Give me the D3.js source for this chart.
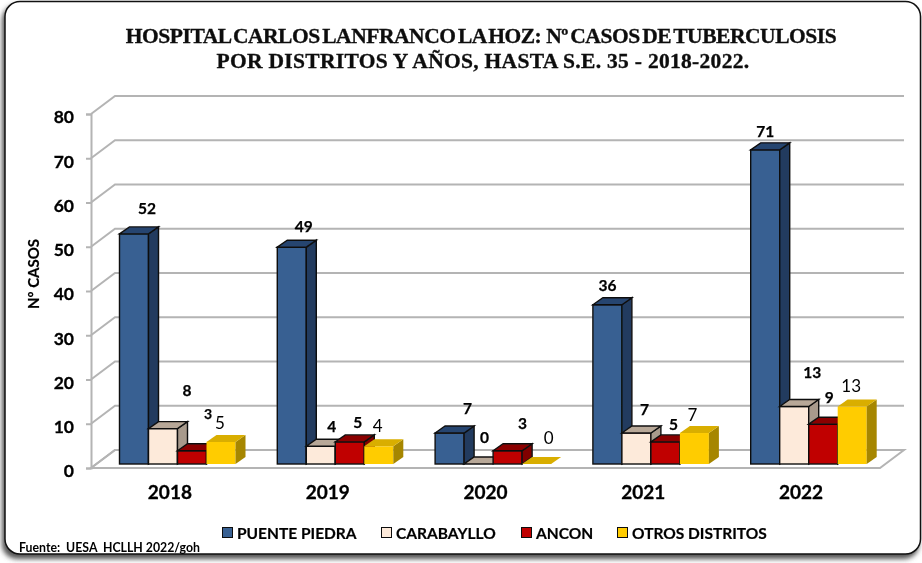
<!DOCTYPE html>
<html><head><meta charset="utf-8">
<script src="https://cdn.jsdelivr.net/npm/d3@7/dist/d3.min.js"></script>
<style>html,body{margin:0;padding:0;background:#fff}svg{display:block}</style>
</head><body><svg id="c" width="922" height="563"></svg>
<script>
const years = ["2018","2019","2020","2021","2022"];
const seriesNames = ["PUENTE PIEDRA","CARABAYLLO","ANCON","OTROS DISTRITOS"];
const puentePiedra = [52,49,7,36,71];
const carabayllo = [8,4,0,7,13];
const ancon = [3,5,3,5,9];
const otros = [5,4,0,7,13];
const yTicks = [0,10,20,30,40,50,60,70,80];
const titleLines = ["HOSPITAL CARLOS LANFRANCO LA HOZ:  Nº CASOS DE TUBERCULOSIS","POR DISTRITOS Y AÑOS, HASTA S.E. 35 - 2018-2022."];
const seriesValues = [puentePiedra,carabayllo,ancon,otros];
const front = ["#376092","#FDEADA","#C00000","#FFCC00"];
const topc = ["#274570","#B8A898","#8B0000","#D9AE00"];
const side = ["#203A5E","#A89A8C","#800000","#A68600"];
// hand-placed data label nudges in the source chart [dx,dy] from the bar's top-centre, per series then year
const nudgeBlue = [[13,-26],[12,-21],[18,-25],[0,-20],[0,-19]];
const nudgePeach = [[24,-39],[11,-20],[6,-27],[8,-24],[18,-34]];
const nudgeRed = [[16,-37],[8,-20],[15,-28],[8,-18],[6,-27]];
const nudgeYellow = [[-1,-19],[-1,-21],[12,-27],[-2,-19],[-1,-21]];
const nudges = [nudgeBlue,nudgePeach,nudgeRed,nudgeYellow];

const svg = d3.select("#c");
const defs = svg.append("defs");
const f = defs.append("filter").attr("id","sh").attr("x","-5%").attr("y","-5%").attr("width","110%").attr("height","110%");
f.append("feGaussianBlur").attr("stdDeviation",2.5);
const b = defs.append("filter").attr("id","soft").attr("x","-5%").attr("y","-5%").attr("width","110%").attr("height","110%");
b.append("feGaussianBlur").attr("stdDeviation",0.35);

// frame
svg.append("rect").attr("x",2).attr("y",5).attr("width",917).attr("height",554).attr("rx",15).attr("fill","#555").attr("filter","url(#sh)");
svg.append("rect").attr("x",5).attr("y",1.5).attr("width",915.5).attr("height",552.5).attr("rx",15).attr("fill","#fff").attr("stroke","#111").attr("stroke-width",1.5);

const DX=24, DY=-18, left=91, right=880;
const y = d3.scaleLinear().domain([0,80]).range([468,114]);
const x0 = d3.scaleBand().domain(years).range([left,right]);
const x1 = d3.scaleBand().domain(seriesNames).range([28.5,144.5]);
const GRID="#b4b4b4";
const root = svg.append("g").attr("filter","url(#soft)");
const grid = root.append("g").attr("fill","none").attr("stroke",GRID).attr("stroke-width",2);
// floor
grid.append("path").attr("fill","#fff").attr("d",`M${left},${y(0)}L${right},${y(0)}L${right+DX},${y(0)+DY}L${left+DX},${y(0)+DY}Z`);
yTicks.forEach(t=>{
  grid.append("path").attr("d",`M${left},${y(t)}L${left+DX},${y(t)+DY}L${right+DX},${y(t)+DY}`);
});
// y axis
const axis = root.append("g").attr("transform",`translate(${left},0)`)
  .call(d3.axisLeft(y).tickValues(yTicks).tickSize(5).tickPadding(8));
axis.select(".domain").attr("stroke",GRID).attr("stroke-width",2);
axis.selectAll("line").attr("stroke",GRID).attr("stroke-width",2);
axis.selectAll("text").attr("font-family","Lato").attr("font-weight",700).attr("font-size",17.5).attr("fill","#000")
  .attr("stroke","#000").attr("stroke-width",0.3).attr("dx",-4).attr("dy","0.5em");

// bars
const bx=10, by=-7, oy=-4;
years.forEach((yr,i)=>{
  const g = root.append("g");
  seriesNames.forEach((s,j)=>{
    const v = seriesValues[j][i];
    const X = x0(yr)+x1(s), W = x1.bandwidth(), T = y(v)+oy, B = y(0)+oy;
    const sw = j===3?0:1.4, sc = "#111";
    if(v>0) g.append("rect").attr("x",X).attr("y",T).attr("width",W).attr("height",B-T).attr("fill",front[j]).attr("stroke",sc).attr("stroke-width",sw);
    if(v>0) g.append("path").attr("d",`M${X+W},${T}L${X+W+bx},${T+by}L${X+W+bx},${B+by}L${X+W},${B}Z`).attr("fill",side[j]).attr("stroke",sc).attr("stroke-width",sw);
    g.append("path").attr("d",`M${X},${T}L${X+bx},${T+by}L${X+W+bx},${T+by}L${X+W},${T}Z`).attr("fill",topc[j]).attr("stroke",sc).attr("stroke-width",sw);
  });
});
// data labels
years.forEach((yr,i)=>{
  seriesNames.forEach((s,j)=>{
    const v = seriesValues[j][i];
    const X = x0(yr)+x1(s)+x1.bandwidth()/2, T = y(v)+oy, n = nudges[j][i];
    root.append("text").attr("x",X+n[0]).attr("y",T+n[1]).attr("text-anchor","middle").attr("dominant-baseline","central")
      .attr("font-family","Lato").attr("font-weight",j===3?400:700)
      .attr("font-size",j===3?17:(j===2&&i===0?14:15.5)).attr("fill","#000")
      .attr("stroke",j===3?"none":"#000").attr("stroke-width",0.25).text(v);
  });
});
// category labels
root.append("g").selectAll("text").data(years).join("text")
  .attr("x",d=>x0(d)+x0.bandwidth()/2).attr("y",491).attr("text-anchor","middle").attr("dominant-baseline","central")
  .attr("font-family","Lato").attr("font-weight",700).attr("font-size",19).attr("fill","#000").attr("stroke","#000").attr("stroke-width",0.3).text(d=>d);
// axis title
root.append("text").attr("transform","translate(33,274) rotate(-90)").attr("text-anchor","middle").attr("dominant-baseline","central")
  .attr("font-family","Lato").attr("font-weight",700).attr("font-size",15).attr("fill","#000").attr("stroke","#000").attr("stroke-width",0.2).text("Nº CASOS");
// title
root.append("g").selectAll("text").data(titleLines).join("text")
  .attr("x",(d,i)=>i===0?481:483).attr("y",(d,i)=>36+i*25).attr("text-anchor","middle").attr("dominant-baseline","central")
  .attr("font-family","Liberation Serif").attr("font-weight",700).attr("font-size",21.5).attr("fill","#111")
  .attr("stroke","#111").attr("stroke-width",0.35)
  .attr("word-spacing",(d,i)=>i===0?-2.5:0).attr("letter-spacing",(d,i)=>i===0?-0.45:0.3)
  .style("white-space","pre").text(d=>d);
// legend
const swatchX = d3.scaleOrdinal().domain(seriesNames).range([222,381,521,617]);
const lg = root.append("g");
seriesNames.forEach((s,j)=>{
  lg.append("rect").attr("x",swatchX(s)+.5).attr("y",527.5).attr("width",10).attr("height",10).attr("fill",front[j]).attr("stroke","#111").attr("stroke-width",1);
  lg.append("text").attr("x",swatchX(s)+15).attr("y",533).attr("dominant-baseline","central").attr("font-family","Lato").attr("font-weight",700).attr("font-size",15.5).attr("fill","#000").attr("stroke","#000").attr("stroke-width",0.2).text(s);
});
root.append("text").attr("x",19).attr("y",547).attr("dominant-baseline","central").attr("font-family","Lato").attr("font-weight",700).attr("font-size",12.3).attr("fill","#000").style("white-space","pre").text("Fuente:  UESA  HCLLH 2022/goh");
</script></body></html>
